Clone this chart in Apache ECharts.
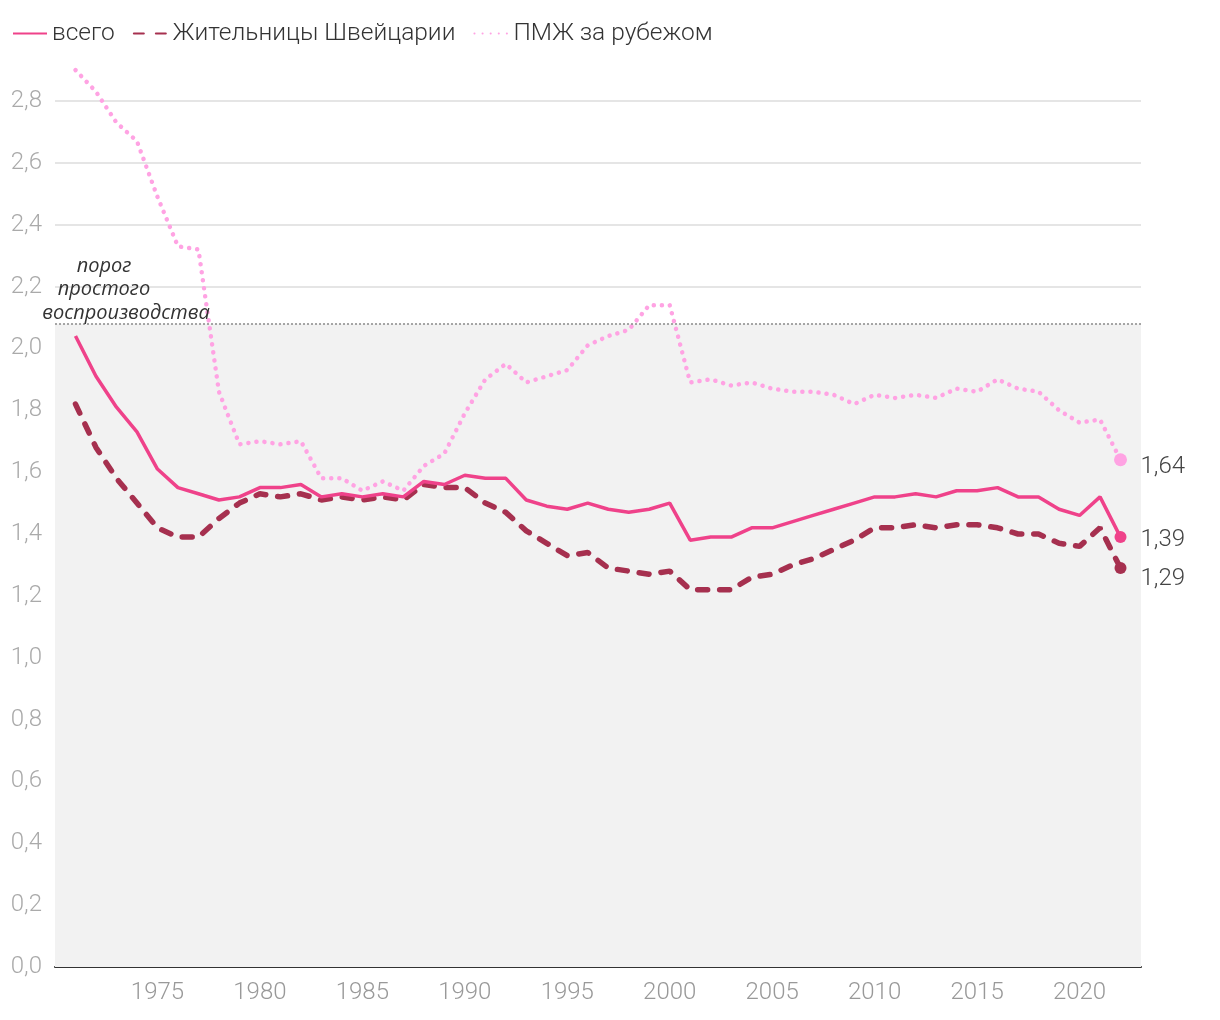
<!DOCTYPE html>
<html>
<head>
<meta charset="utf-8">
<script src="https://cdn.jsdelivr.net/npm/echarts@6/dist/echarts.min.js"></script>
<style>
  html, body { margin: 0; padding: 0; background: #fff; }
  #chart { width: 1220px; height: 1020px; }
</style>
</head>
<body>
<div id="chart"></div>
<script>
// годы
const years = [
  1971, 1972, 1973, 1974, 1975, 1976, 1977, 1978, 1979, 1980,
  1981, 1982, 1983, 1984, 1985, 1986, 1987, 1988, 1989, 1990,
  1991, 1992, 1993, 1994, 1995, 1996, 1997, 1998, 1999, 2000,
  2001, 2002, 2003, 2004, 2005, 2006, 2007, 2008, 2009, 2010,
  2011, 2012, 2013, 2014, 2015, 2016, 2017, 2018, 2019, 2020,
  2021, 2022
];
// всего
const totalValues = [
  2.04, 1.91, 1.81, 1.73, 1.61, 1.55, 1.53, 1.51, 1.52, 1.55,
  1.55, 1.56, 1.52, 1.53, 1.52, 1.53, 1.52, 1.57, 1.56, 1.59,
  1.58, 1.58, 1.51, 1.49, 1.48, 1.50, 1.48, 1.47, 1.48, 1.50,
  1.38, 1.39, 1.39, 1.42, 1.42, 1.44, 1.46, 1.48, 1.50, 1.52,
  1.52, 1.53, 1.52, 1.54, 1.54, 1.55, 1.52, 1.52, 1.48, 1.46,
  1.52, 1.39
];
// Жительницы Швейцарии
const swissValues = [
  1.82, 1.68, 1.58, 1.50, 1.42, 1.39, 1.39, 1.45, 1.50, 1.53,
  1.52, 1.53, 1.51, 1.52, 1.51, 1.52, 1.51, 1.56, 1.55, 1.55,
  1.50, 1.47, 1.41, 1.37, 1.33, 1.34, 1.29, 1.28, 1.27, 1.28,
  1.22, 1.22, 1.22, 1.26, 1.27, 1.30, 1.32, 1.35, 1.38, 1.42,
  1.42, 1.43, 1.42, 1.43, 1.43, 1.42, 1.40, 1.40, 1.37, 1.36,
  1.42, 1.29
];
// ПМЖ за рубежом
const abroadValues = [
  2.90, 2.83, 2.73, 2.67, 2.49, 2.33, 2.32, 1.86, 1.69, 1.70,
  1.69, 1.70, 1.58, 1.58, 1.54, 1.57, 1.54, 1.62, 1.66, 1.79,
  1.90, 1.95, 1.89, 1.91, 1.93, 2.01, 2.04, 2.06, 2.14, 2.14,
  1.89, 1.90, 1.88, 1.89, 1.87, 1.86, 1.86, 1.85, 1.82, 1.85,
  1.84, 1.85, 1.84, 1.87, 1.86, 1.90, 1.87, 1.86, 1.80, 1.76,
  1.77, 1.64
];
const threshold = 2.08; // порог простого воспроизводства
const thresholdNote = ['порог', 'простого', 'воспроизводства'];

const FONT = 'Roboto, "Noto Sans", sans-serif';
const NOTE_FONT = '"Open Sans", "Noto Sans", sans-serif';
const lastIdx = years.length - 1;
const toPairs = vals => years.map((y, i) => [y, vals[i]]);
const fmt = v => v.toFixed(2).replace('.', ',');
const endSize = (v, p) => (p.dataIndex === lastIdx ? 12 : 0);

const endLabel = dy => ({
  show: true,
  formatter: p => fmt(p.value[1]),
  fontFamily: FONT,
  fontWeight: 300,
  fontSize: 24,
  color: '#444',
  distance: 20,
  offset: [0, dy]
});

// подпись к порогу — три строки
const noteX = [104, 104, 126];
const noteGraphics = thresholdNote.map((t, i) => ({
  type: 'text',
  x: noteX[i],
  y: 256 + i * 23.5,
  z: 10,
  style: {
    text: t,
    fontFamily: NOTE_FONT,
    fontStyle: 'italic',
    fontSize: 20,
    fill: '#333',
    align: 'center'
  }
}));

const chart = echarts.init(document.getElementById('chart'));
chart.setOption({
  animation: false,
  textStyle: { fontFamily: FONT },
  legend: {
    left: 7,
    top: 16,
    itemWidth: 34,
    itemHeight: 14,
    itemGap: 18,
    itemStyle: { opacity: 0 },
    textStyle: { fontSize: 24.5, fontWeight: 300, color: '#333', fontFamily: FONT },
    data: ['всего', 'Жительницы Швейцарии', 'ПМЖ за рубежом']
  },
  grid: { left: 55, right: 79, top: 101, bottom: 53 },
  xAxis: {
    type: 'value',
    min: 1970,
    max: 2023,
    interval: 5,
    axisLine: { show: true, lineStyle: { color: '#333', width: 2 } },
    axisTick: { show: false },
    splitLine: { show: false },
    axisLabel: {
      showMinLabel: false,
      showMaxLabel: false,
      margin: 14,
      fontSize: 24,
      fontWeight: 300,
      color: '#999',
      formatter: v => (v === 1970 ? '' : String(v))
    }
  },
  yAxis: {
    type: 'value',
    min: 0,
    max: 2.8,
    interval: 0.2,
    axisLine: { show: false },
    axisTick: { show: false },
    splitLine: { lineStyle: { color: '#e5e5e5', width: 2 } },
    axisLabel: {
      fontSize: 24,
      fontWeight: 300,
      color: '#aaa',
      margin: 13,
      formatter: v => v.toFixed(1).replace('.', ',')
    }
  },
  graphic: noteGraphics,
  series: [
    {
      name: 'ПМЖ за рубежом',
      type: 'line',
      data: toPairs(abroadValues),
      clip: false,
      z: 3,
      color: '#ffa3e3',
      showSymbol: true,
      showAllSymbol: true,
      symbol: 'circle',
      symbolSize: (v, p) => (p.dataIndex === lastIdx ? 13 : 0),
      lineStyle: { width: 4.5, type: [0.1, 8], cap: 'round', color: '#ffa3e3' },
      endLabel: endLabel(7),
      markArea: {
        silent: true,
        itemStyle: { color: '#f2f2f2' },
        data: [[{ coord: [1970, 0] }, { coord: [2023, threshold] }]]
      },
      markLine: {
        silent: true,
        symbol: 'none',
        label: { show: false },
        lineStyle: { color: '#8a8a8a', type: [2, 2], width: 1.5 },
        data: [{ yAxis: threshold }]
      }
    },
    {
      name: 'Жительницы Швейцарии',
      type: 'line',
      data: toPairs(swissValues),
      clip: false,
      z: 4,
      color: '#a6304f',
      showSymbol: true,
      showAllSymbol: true,
      symbol: 'circle',
      symbolSize: endSize,
      lineStyle: { width: 5.5, type: [10, 12], cap: 'round', color: '#a6304f' },
      endLabel: endLabel(11)
    },
    {
      name: 'всего',
      type: 'line',
      data: toPairs(totalValues),
      clip: false,
      z: 5,
      color: '#ef428a',
      showSymbol: true,
      showAllSymbol: true,
      symbol: 'circle',
      symbolSize: endSize,
      lineStyle: { width: 3.5, color: '#ef428a' },
      endLabel: endLabel(3)
    }
  ]
});
window.addEventListener('resize', function () { chart.resize(); });
</script>
</body>
</html>
